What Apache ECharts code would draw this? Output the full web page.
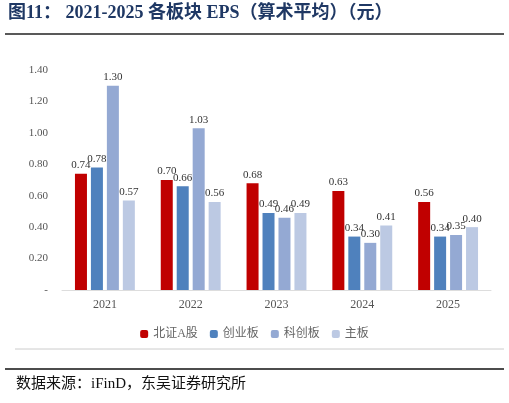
<!DOCTYPE html><html><head><meta charset="utf-8">
<script src="https://cdn.jsdelivr.net/npm/echarts@6/dist/echarts.min.js"></script>
<style>body{margin:0;background:#fff}#c{width:509px;height:403px}</style></head><body><div id="c"></div>
<script>
const categories=['2021','2022','2023','2024','2025'];
const seriesNames=['北证A股','创业板','科创板','主板'];
const bz=[0.74,0.70,0.68,0.63,0.56];
const cy=[0.78,0.66,0.49,0.34,0.34];
const kc=[1.30,1.03,0.46,0.30,0.35];
const zb=[0.57,0.56,0.49,0.41,0.40];
const colors=['#C00000','#4F81BD','#94A9D3','#BCC9E3'];
const serif='"Liberation Serif","Noto Sans CJK SC",serif';
const chart=echarts.init(document.getElementById('c'));
chart.setOption({
 animation:false,
 graphic:[
  {type:'text',left:8,top:4,style:{text:'图11： 2021-2025 各板块 EPS（算术平均）（元）',font:'bold 18px '+serif,fill:'#1F3864'}},
  {type:'line',shape:{x1:5,y1:34,x2:504,y2:34},style:{stroke:'#222',lineWidth:1.5}},
  {type:'line',shape:{x1:15,y1:349,x2:504,y2:349},style:{stroke:'#ccc',lineWidth:1}},
  {type:'line',shape:{x1:5,y1:369,x2:504,y2:369},style:{stroke:'#111',lineWidth:1.5}},
  {type:'text',left:16,top:377,style:{text:'数据来源：iFinD，东吴证券研究所',font:'15px '+serif,fill:'#111'}}
 ],
 legend:{top:323,left:'center',itemWidth:8,itemHeight:8,itemGap:12,textStyle:{fontFamily:serif,fontSize:12,color:'#666'},data:seriesNames},
 grid:{left:62,right:18,top:70,bottom:113},
 xAxis:{type:'category',data:categories,axisTick:{show:false},axisLine:{lineStyle:{color:'#ddd'}},axisLabel:{fontFamily:serif,fontSize:12,color:'#555',margin:9}},
 yAxis:{type:'value',min:0,max:1.4,interval:0.2,splitLine:{show:false},axisLabel:{fontFamily:serif,fontSize:11,color:'#555',margin:14,formatter:v=>v===0?'-':v.toFixed(2)}},
 series:[bz,cy,kc,zb].map((d,i)=>({name:seriesNames[i],type:'bar',data:d,barWidth:12,barGap:'33%',itemStyle:{color:colors[i]},label:{show:true,position:'top',formatter:p=>p.value.toFixed(2),fontFamily:serif,fontSize:11,color:'#333',distance:3}}))
});
</script></body></html>
